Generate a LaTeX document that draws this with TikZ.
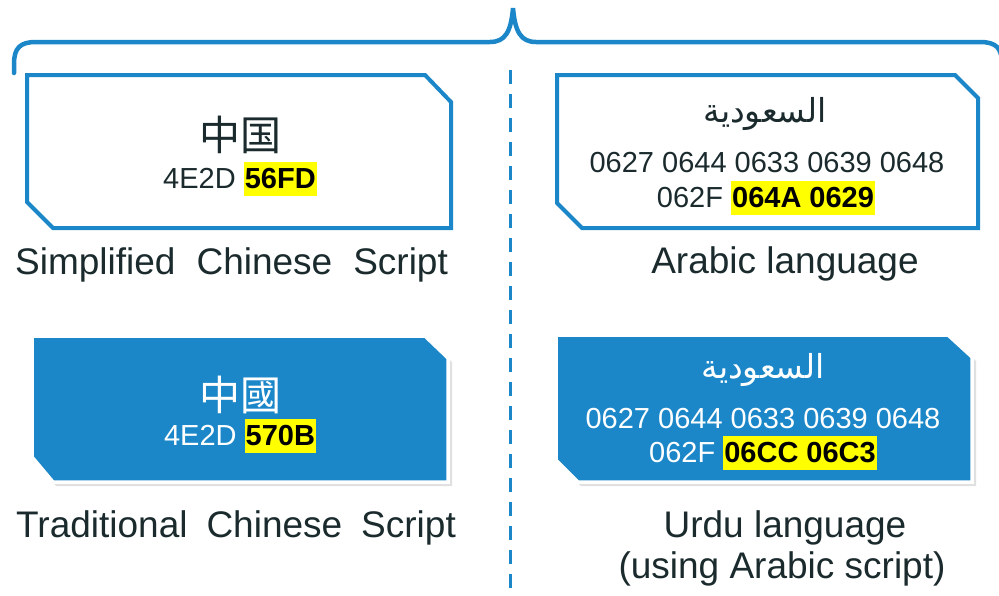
\documentclass[tikz,border=0pt]{standalone}
\usepackage{fontspec}
\setmainfont{Liberation Sans}
\newfontfamily\cjksc{Noto Sans CJK SC}
\newfontfamily\cjktc{Noto Sans CJK TC}
\newfontfamily\arabicfont[Script=Arabic]{DejaVu Sans}
\TeXXeTstate=1
\definecolor{uniblue}{HTML}{1B87C9}
\definecolor{inkdark}{HTML}{1A2A2D}
\definecolor{hlyellow}{HTML}{FFFF00}
\newcommand\hlt[1]{{\setlength{\fboxsep}{1pt}\colorbox{hlyellow}{\color{black}\rule[-7pt]{0pt}{32pt}\textbf{#1}}}}
\tikzset{
  outlinebox/.style={draw=uniblue, line width=4pt, fill=white, line join=miter},
  filledbox/.style={draw=white, line width=3.5pt, fill=uniblue, line join=miter},
  boxshadow/.style={fill=black!12},
  codetext/.style={font=\fontsize{29pt}{33pt}\selectfont, inner sep=0pt, align=center},
  cjktext/.style={font=\fontsize{41pt}{44pt}\selectfont, inner sep=0pt},
  arabictext/.style={font=\fontsize{33pt}{38pt}\selectfont\arabicfont, inner sep=0pt},
  labeltext/.style={font=\fontsize{37pt}{42pt}\selectfont, text=inkdark, inner sep=0pt},
  bracestyle/.style={draw=uniblue, line width=4.5pt, line cap=round},
  divider/.style={draw=uniblue, line width=3pt, dash pattern=on 14pt off 10pt}
}
\begin{document}
\begin{tikzpicture}[x=1pt,y=-1pt]
\useasboundingbox (0,0) rectangle (999,595);
\begin{scope}
\clip (0,0) rectangle (999,595);
% brace
\draw[bracestyle] (14,73) -- (14,64) .. controls (14,48) and (20,42) .. (36,42)
  -- (490,42) .. controls (505,42) and (511,32) .. (513,8)
  .. controls (515,32) and (521,42) .. (536,42) -- (980,42)
  .. controls (996,42) and (1002,48) .. (1002,64);
% divider
\coordinate (dtop) at (510,70);
\coordinate (dbot) at (510,600);
\draw[divider] (dtop) -- (dbot);
\end{scope}

% box 1 (simplified)
\draw[outlinebox] (27,75) -- (425,75) -- (451,102) -- (451,228) -- (53,228) -- (27,202) -- cycle;
\node[cjktext, text=inkdark, font=\fontsize{41pt}{44pt}\selectfont\cjksc] (sc) at (240,135) {中国};
\node[codetext, text=inkdark, anchor=base] (sccode) at (240,188) {4E2D \hlt{56FD}};

% box 2 (arabic)
\draw[outlinebox] (557,75) -- (955,75) -- (978,98) -- (978,228) -- (582,228) -- (557,203) -- cycle;
\node[arabictext, text=inkdark] (ar) at (765,114) {\beginR السعودية\endR};
\node[codetext, text=inkdark, anchor=base] (arcode1) at (767,172) {0627 0644 0633 0639 0648};
\node[codetext, text=inkdark, anchor=base] (arcode2) at (766,207) {062F \hlt{064A 0629}};

% box 3 (traditional)
\fill[boxshadow] (35,339) -- (428,339) -- (452,362) -- (452,486) -- (56,486) -- (35,461) -- cycle;
\draw[filledbox] (32,336) -- (425,336) -- (448,358) -- (448,482) -- (53,482) -- (32,457) -- cycle;
\node[cjktext, text=white, font=\fontsize{41pt}{44pt}\selectfont\cjktc] (tc) at (240,395) {中國};
\node[codetext, text=white, anchor=base] (tccode) at (240,445) {4E2D \hlt{570B}};

% box 4 (urdu)
\fill[boxshadow] (559,338) -- (951,338) -- (976,361) -- (976,486) -- (581,486) -- (559,464) -- cycle;
\draw[filledbox] (556,335) -- (948,335) -- (972,357) -- (972,482) -- (578,482) -- (556,460) -- cycle;
\node[arabictext, text=white] (ur) at (763,370) {\beginR ^^^^0627^^^^0644^^^^0633^^^^0639^^^^0648^^^^062f^^^^06cc^^^^0629\endR};
\node[codetext, text=white, anchor=base] (urcode1) at (763,428) {0627 0644 0633 0639 0648};
\node[codetext, text=white, anchor=base] (urcode2) at (763,462) {062F \hlt{06CC 06C3}};

% labels
\node[labeltext, anchor=base west] (lsc) at (15,274) {Simplified\hspace{21pt}Chinese\hspace{21pt}Script};
\node[labeltext, anchor=base west] (ltc) at (16,537) {Traditional\hspace{19pt}Chinese\hspace{19pt}Script};
\node[labeltext, anchor=base] (lar) at (785,273) {Arabic language};
\node[labeltext, anchor=base] (lur1) at (785,537) {Urdu language};
\node[labeltext, anchor=base] (lur2) at (782,578) {(using Arabic script)};
\end{tikzpicture}
\end{document}
